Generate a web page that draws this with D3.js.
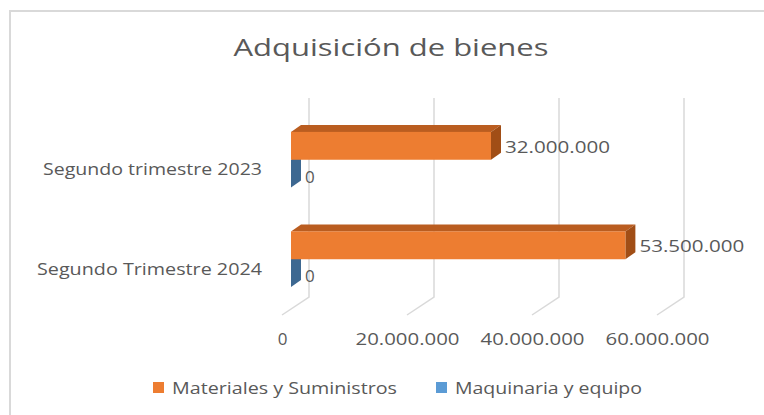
<!DOCTYPE html>
<html><head><meta charset="utf-8">
<script src="https://cdn.jsdelivr.net/npm/d3@7"></script>
<style>
html,body{margin:0;padding:0;background:#fff;}
svg text{font-family:"Open Sans",sans-serif;fill:#595959;}
</style></head>
<body>
<svg id="chart" width="764" height="415"></svg>
<script>
const title = "Adquisición de bienes";
const categories = ["Segundo trimestre 2023", "Segundo Trimestre 2024"];
const seriesNames = ["Materiales y Suministros", "Maquinaria y equipo"];
const materiales = [32000000, 53500000];
const maquinaria = [0, 0];
const tickValues = [0, 20000000, 40000000, 60000000];

const colors = {
  front: ["#ED7D31", "#5B9BD5"],
  top: ["#BA5D20", "#4A7EB0"],
  side: ["#A14E16", "#3D6891"]
};

const fmt = d3.formatLocale({decimal: ",", thousands: ".", grouping: [3], currency: ["", ""]}).format(",");

const svg = d3.select("#chart");

// border (only top/left visible)
svg.append("rect").attr("x", 10).attr("y", 11).attr("width", 800).attr("height", 500)
  .attr("fill", "none").attr("stroke", "#d9d9d9").attr("stroke-width", 2);

// 3D geometry
const depth = {dx: -27, dy: 18};
const barFront = 2 / 3;
const barThick = {dx: 10, dy: -7};

const x = d3.scaleLinear().domain([0, 60000000]).range([309, 684]);
const y0 = d3.scaleBand().domain(categories).range([98, 297]).paddingInner(0.44).paddingOuter(0.22);
const y1 = d3.scaleBand().domain(seriesNames).range([0, y0.bandwidth()]);

// gridlines (back wall + floor diagonal)
const grid = svg.append("g").attr("stroke", "#d9d9d9").attr("stroke-width", 1.5).attr("fill", "none");
grid.selectAll("path").data(tickValues).join("path")
  .attr("d", t => `M${x(t)},98 L${x(t)},297 L${x(t) + depth.dx},${297 + depth.dy}`);

// bars
const offX = depth.dx * barFront, offY = depth.dy * barFront;
const rows = [];
categories.forEach((c, i) => {
  rows.push({cat: c, s: 1, v: maquinaria[i]});
  rows.push({cat: c, s: 0, v: materiales[i]});
});
const bars = svg.append("g");
rows.forEach(r => {
  const x0 = x(0) + offX, x1 = x(r.v) + offX;
  const yt = y0(r.cat) + y1(seriesNames[r.s]) + offY, h = y1.bandwidth();
  const g = bars.append("g");
  g.append("path").attr("fill", colors.top[r.s])
    .attr("d", `M${x0},${yt}L${x1},${yt}L${x1 + barThick.dx},${yt + barThick.dy}L${x0 + barThick.dx},${yt + barThick.dy}Z`);
  g.append("path").attr("fill", colors.side[r.s])
    .attr("d", `M${x1},${yt}L${x1 + barThick.dx},${yt + barThick.dy}L${x1 + barThick.dx},${yt + barThick.dy + h}L${x1},${yt + h}Z`);
  if (r.v > 0) g.append("rect").attr("x", x0).attr("y", yt).attr("width", x1 - x0).attr("height", h).attr("fill", colors.front[r.s]);
  g.append("text").attr("x", x1 + barThick.dx + 4).attr("y", yt + h / 2 + (r.v > 0 ? 1 : 3)).attr("dy", "0.35em")
    .attr("font-size", 17)
    .attr("textLength", r.v > 0 ? 105 : null).attr("lengthAdjust", "spacingAndGlyphs")
    .text(fmt(r.v));
});

// x axis (front edge)
const xf = d3.scaleLinear().domain(x.domain()).range([x(0) + depth.dx, x(60000000) + depth.dx]);
const xa = svg.append("g").attr("transform", "translate(0,333)")
  .call(d3.axisBottom(xf).tickValues(tickValues).tickFormat(fmt).tickSize(0).tickPadding(0));
xa.select(".domain").remove();
xa.selectAll("text").attr("font-size", 17).attr("font-family", null).attr("fill", "#595959")
  .attr("textLength", d => d === 0 ? null : 104).attr("lengthAdjust", "spacingAndGlyphs");

// y axis labels
const yf = d3.scaleBand().domain(categories).range([98 + 22, 297 + 22]);
const ya = svg.append("g").attr("transform", "translate(262,0)")
  .call(d3.axisLeft(yf).tickSize(0).tickPadding(0));
ya.select(".domain").remove();
ya.selectAll("text").attr("font-size", 17).attr("font-family", null).attr("fill", "#595959")
  .attr("textLength", (d, i) => i === 0 ? 219 : 225).attr("lengthAdjust", "spacingAndGlyphs");

// title
svg.append("text").attr("x", 391).attr("y", 56).attr("text-anchor", "middle")
  .attr("font-size", 24).attr("textLength", 315).attr("lengthAdjust", "spacingAndGlyphs").text(title);

// legend
const legX = [153, 436], legW = [225, 187];
const leg = svg.append("g");
seriesNames.forEach((n, i) => {
  leg.append("rect").attr("x", legX[i]).attr("y", 382).attr("width", 11).attr("height", 11).attr("fill", colors.front[i]);
  leg.append("text").attr("x", legX[i] + 19).attr("y", 388).attr("dy", "0.35em").attr("font-size", 17)
    .attr("textLength", legW[i]).attr("lengthAdjust", "spacingAndGlyphs").text(n);
});
</script>
</body></html>
